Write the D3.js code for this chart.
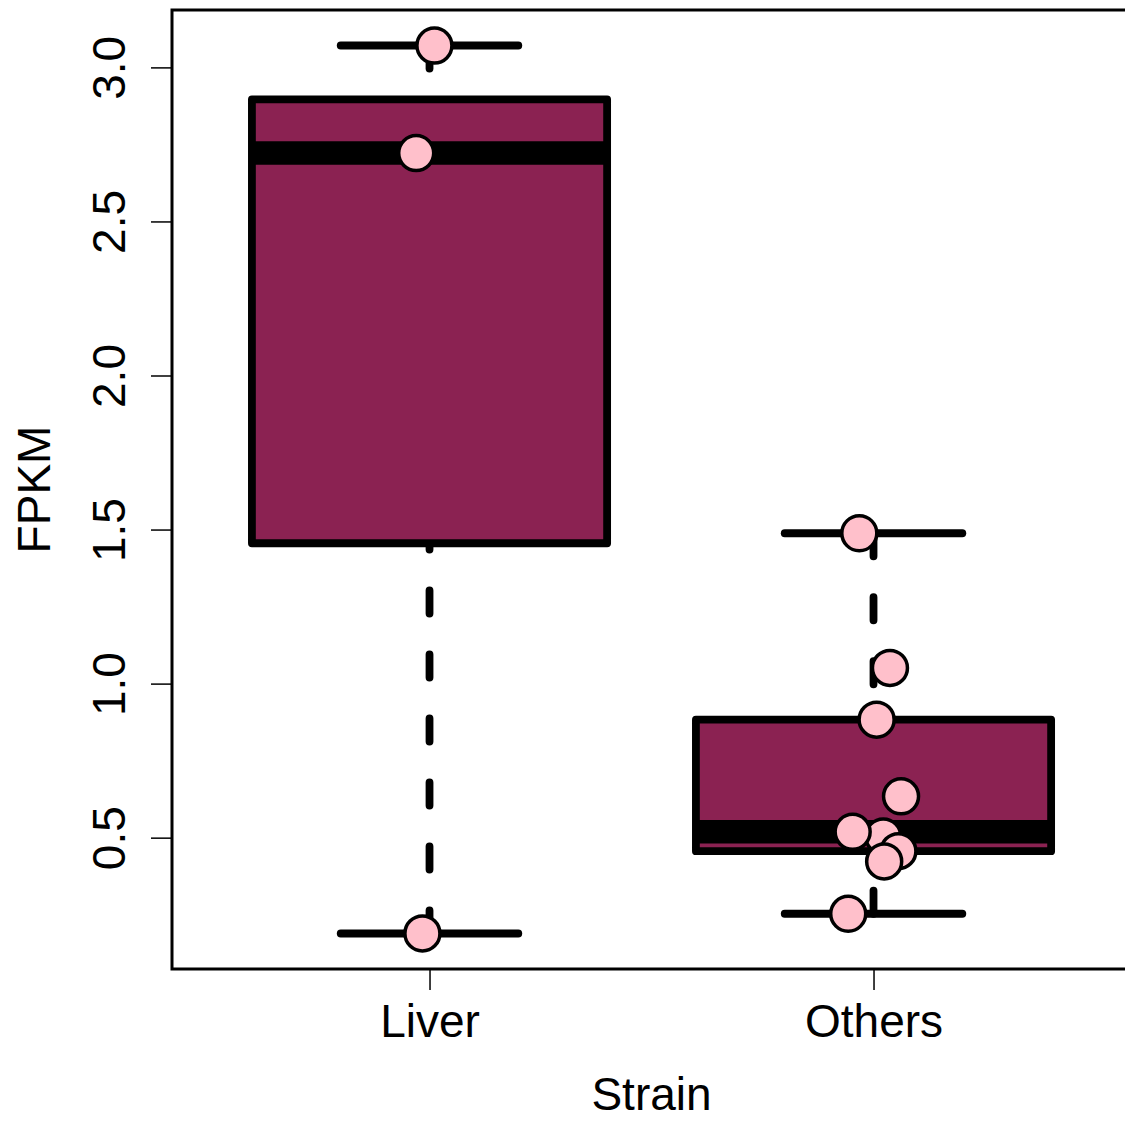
<!DOCTYPE html>
<html>
<head>
<meta charset="utf-8">
<script src="https://cdn.jsdelivr.net/npm/d3@7"></script>
<style>
  html, body { margin: 0; padding: 0; background: #fff; }
  svg { display: block; }
  text { font-family: "Liberation Sans", Arial, Helvetica, sans-serif; }
</style>
</head>
<body>
<svg id="chart" width="1125" height="1121"></svg>
<script>
// ---- data ----
const categories = ["Liver", "Others"];
const liverValues  = [3.071, 2.722, 0.189];
const liverJitter  = [0.011, -0.030, -0.016];
const othersValues = [1.488, 1.051, 0.883, 0.634, 0.504, 0.456, 0.423, 0.519, 0.253];
const othersJitter = [-0.032, 0.037, 0.007, 0.062, 0.022, 0.056, 0.024, -0.047, -0.057];
const yTicks = [0.5, 1.0, 1.5, 2.0, 2.5, 3.0];
const xLabel = "Strain";
const yLabel = "FPKM";

const groups = [
  { name: categories[0], values: liverValues, jitter: liverJitter },
  { name: categories[1], values: othersValues, jitter: othersJitter }
];

// Tukey five-number summary (as in R's fivenum / boxplot)
function fivenum(arr) {
  const x = arr.slice().sort((a, b) => a - b);
  const n = x.length;
  const n4 = Math.floor((n + 3) / 2) / 2;
  const d = [1, n4, (n + 1) / 2, n + 1 - n4, n];
  return d.map(v => 0.5 * (x[Math.floor(v) - 1] + x[Math.ceil(v) - 1]));
}
function boxStats(arr) {
  const f = fivenum(arr);
  const iqr = f[3] - f[1];
  const lo = f[1] - 1.5 * iqr, hi = f[3] + 1.5 * iqr;
  const inside = arr.filter(v => v >= lo && v <= hi);
  return { wlo: d3.min(inside), q1: f[1], med: f[2], q3: f[3], whi: d3.max(inside) };
}

// ---- layout ----
const plot = { left: 172, top: 10, bottom: 969 };
const unit = 444;
const xDom = [0.42, 2.58];
const x = d3.scaleLinear().domain(xDom).range([plot.left, plot.left + (xDom[1] - xDom[0]) * unit]);

const all = liverValues.concat(othersValues);
const ext = d3.extent(all);
const pad = (ext[1] - ext[0]) * 0.04;
const y = d3.scaleLinear().domain([ext[0] - pad, ext[1] + pad]).range([plot.bottom, plot.top]);

const svg = d3.select("#chart");
const lwd = 7.8;
const boxFill = "#8B2252";
const ptFill = "#FFC0CB";

groups.forEach((g, i) => {
  const cx = i + 1;
  const s = boxStats(g.values);
  const G = svg.append("g");
  // whiskers (dashed), drawn from whisker end toward hinge
  [[s.whi, s.q3], [s.wlo, s.q1]].forEach(([a, b]) => {
    G.append("line")
      .attr("x1", x(cx)).attr("x2", x(cx))
      .attr("y1", y(a)).attr("y2", y(b))
      .attr("stroke", "#000").attr("stroke-width", lwd)
      .attr("stroke-linecap", "round")
      .attr("stroke-dasharray", "23,41");
  });
  // staples
  [s.whi, s.wlo].forEach(v => {
    G.append("line")
      .attr("x1", x(cx - 0.2)).attr("x2", x(cx + 0.2))
      .attr("y1", y(v)).attr("y2", y(v))
      .attr("stroke", "#000").attr("stroke-width", lwd)
      .attr("stroke-linecap", "round");
  });
  // box
  G.append("rect")
    .attr("x", x(cx - 0.4)).attr("width", x(cx + 0.4) - x(cx - 0.4))
    .attr("y", y(s.q3)).attr("height", y(s.q1) - y(s.q3))
    .attr("fill", boxFill).attr("stroke", "#000")
    .attr("stroke-width", lwd).attr("stroke-linejoin", "round");
  // median
  G.append("line")
    .attr("x1", x(cx - 0.4)).attr("x2", x(cx + 0.4))
    .attr("y1", y(s.med)).attr("y2", y(s.med))
    .attr("stroke", "#000").attr("stroke-width", 3 * lwd)
    .attr("stroke-linecap", "butt");
});

// points
groups.forEach((g, i) => {
  const cx = i + 1;
  svg.append("g").selectAll("circle")
    .data(g.values.map((v, k) => ({ v, j: g.jitter[k] })))
    .join("circle")
    .attr("cx", d => x(cx + d.j))
    .attr("cy", d => y(d.v))
    .attr("r", 17.5)
    .attr("fill", ptFill)
    .attr("stroke", "#000")
    .attr("stroke-width", 3.5);
});

// frame
svg.append("path")
  .attr("d", `M${x(xDom[1])},${plot.top} L${plot.left},${plot.top} L${plot.left},${plot.bottom} L${x(xDom[1])},${plot.bottom}`)
  .attr("fill", "none").attr("stroke", "#000").attr("stroke-width", 3);

// y axis
const yAxis = svg.append("g")
  .attr("transform", `translate(${plot.left},0)`)
  .call(d3.axisLeft(y).tickValues(yTicks).tickFormat(d3.format(".1f")).tickSize(21));
yAxis.select(".domain").remove();
yAxis.selectAll(".tick line").attr("stroke", "#000").attr("stroke-width", 1.5);
yAxis.selectAll(".tick text")
  .attr("x", null).attr("dy", null)
  .attr("transform", "translate(-47,0) rotate(-90)")
  .attr("text-anchor", "middle")
  .attr("font-size", 46).attr("fill", "#000")
  .style("font-family", "'Liberation Sans', Arial, sans-serif");

// x axis
const xAxis = svg.append("g")
  .attr("transform", `translate(0,${plot.bottom})`)
  .call(d3.axisBottom(x).tickValues([1, 2]).tickFormat(d => categories[d - 1]).tickSize(21));
xAxis.select(".domain").remove();
xAxis.selectAll(".tick line").attr("stroke", "#000").attr("stroke-width", 1.5);
xAxis.selectAll(".tick text")
  .attr("y", 68).attr("dy", null)
  .attr("font-size", 46).attr("fill", "#000")
  .style("font-family", "'Liberation Sans', Arial, sans-serif");

// axis titles
svg.append("text")
  .attr("x", (plot.left + x(xDom[1])) / 2).attr("y", 1110)
  .attr("text-anchor", "middle").attr("font-size", 46)
  .text(xLabel);
svg.append("text")
  .attr("transform", `translate(50,${(plot.top + plot.bottom) / 2}) rotate(-90)`)
  .attr("text-anchor", "middle").attr("font-size", 46)
  .text(yLabel);
</script>
</body>
</html>
